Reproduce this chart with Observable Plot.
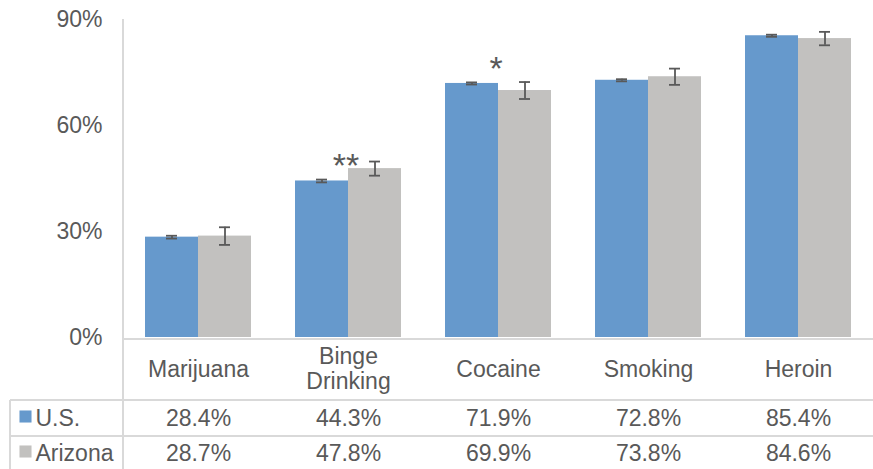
<!DOCTYPE html>
<html><head><meta charset="utf-8">
<script src="https://cdn.jsdelivr.net/npm/d3@7"></script>
<script src="https://cdn.jsdelivr.net/npm/@observablehq/plot@0.6"></script>
<style>body{margin:0;background:#fff}</style>
</head><body><div id="chart"></div>
<script>
const categories = ["Marijuana", "Binge Drinking", "Cocaine", "Smoking", "Heroin"];
const categoryLabels = ["Marijuana", "Binge\nDrinking", "Cocaine", "Smoking", "Heroin"];
const series = ["U.S.", "Arizona"];
const usValues = [28.4, 44.3, 71.9, 72.8, 85.4];
const azValues = [28.7, 47.8, 69.9, 73.8, 84.6];
const usErrors = [0.4, 0.4, 0.3, 0.3, 0.3];
const azErrors = [2.5, 2.0, 2.4, 2.3, 1.9];
const significance = ["", "**", "*", "", ""];
const yTicks = [0, 30, 60, 90];
const colors = ["#6699cc", "#c2c1bf"];

const rows = [];
categories.forEach((c, i) => {
  rows.push({cat: c, series: "U.S.", value: usValues[i], err: usErrors[i]});
  rows.push({cat: c, series: "Arizona", value: azValues[i], err: azErrors[i]});
});
const usRows = rows.filter(d => d.series === "U.S.");
const azRows = rows.filter(d => d.series === "Arizona");
const sigRows = categories.map((c, i) => ({cat: c, mark: significance[i], value: usValues[i] + usErrors[i]})).filter(d => d.mark);
const fmt = v => d3.format(".1f")(v) + "%";

const font = "'Liberation Sans', Arial, sans-serif";
const textColor = "#595959";
const errColor = "#595959";

const plot = Plot.plot({
  width: 873, height: 469,
  marginLeft: 123, marginRight: 0, marginTop: 19, marginBottom: 132,
  style: {fontFamily: font, fontSize: "23px", color: textColor, background: "#fff"},
  fx: {domain: categories, padding: 0, axis: null, label: null},
  x: {domain: series, paddingInner: 0, paddingOuter: 0.389, axis: null},
  y: {domain: [0, 90], ticks: yTicks, tickFormat: d => d + "%", tickSize: 0, tickPadding: 21, label: null},
  color: {domain: series, range: colors},
  marks: [
    Plot.barY(rows, {fx: "cat", x: "series", y: "value", fill: "series"}),
    Plot.ruleX(rows, {fx: "cat", x: "series", y1: d => d.value - d.err, y2: d => d.value + d.err, stroke: errColor, strokeWidth: 1.8}),
    Plot.tickY(rows, {fx: "cat", x: "series", y: d => d.value + d.err, stroke: errColor, strokeWidth: 1.8, inset: 21}),
    Plot.tickY(rows, {fx: "cat", x: "series", y: d => d.value - d.err, stroke: errColor, strokeWidth: 1.8, inset: 21}),
    Plot.text(sigRows, {fx: "cat", x: () => "U.S.", y: "value", text: "mark", dx: 24, dy: -13, fontSize: 34, fill: textColor}),
    Plot.text(categories, {fx: d => d, text: (d, i) => categoryLabels[i], frameAnchor: "bottom", lineAnchor: "middle", dy: 31, fontSize: 23, lineHeight: 1.09, fill: textColor}),
    Plot.text(usRows, {fx: "cat", text: d => fmt(d.value), frameAnchor: "bottom", lineAnchor: "middle", dy: 81, fontSize: 23, fill: textColor}),
    Plot.text(azRows, {fx: "cat", text: d => fmt(d.value), frameAnchor: "bottom", lineAnchor: "middle", dy: 116, fontSize: 23, fill: textColor}),
    Plot.text([{cat: categories[0], label: series[0]}], {fx: "cat", text: "label", frameAnchor: "bottom-left", lineAnchor: "middle", dx: -88, dy: 81, textAnchor: "start", fontSize: 23, fill: textColor}),
    Plot.text([{cat: categories[0], label: series[1]}], {fx: "cat", text: "label", frameAnchor: "bottom-left", lineAnchor: "middle", dx: -88, dy: 116, textAnchor: "start", fontSize: 23, fill: textColor}),
    Plot.dot([{cat: categories[0], series: series[0]}], {fx: "cat", frameAnchor: "bottom-left", dx: -98, dy: 79, symbol: "square", r: 6.8, fill: "series", stroke: null}),
    Plot.dot([{cat: categories[0], series: series[1]}], {fx: "cat", frameAnchor: "bottom-left", dx: -98, dy: 114, symbol: "square", r: 6.8, fill: "series", stroke: null})
  ]
});

// table borders and axis line, placed with the plot's own scales
const svg = d3.select(plot);
const yS = plot.scale("y");
const fxS = plot.scale("fx");
const y0 = yS.apply(0);
const yTop = yS.apply(90);
const left = fxS.range[0];
const right = fxS.range[1];
const H = 469;
const g = svg.append("g").attr("stroke", "#d9d9d9").attr("stroke-width", 2).attr("fill", "none");
const line = (x1, y1, x2, y2) => g.append("line").attr("x1", x1).attr("y1", y1).attr("x2", x2).attr("y2", y2);
line(left, yTop, left, H);
line(left, y0 + 2, right, y0 + 2);
line(left - 113, y0 + 63, right, y0 + 63);
line(left - 113, y0 + 99, right, y0 + 99);
line(left - 113, y0 + 63, left - 113, H);
svg.node().insertBefore(g.node(), svg.node().querySelector("g"));

document.getElementById("chart").appendChild(plot);
</script>
</body></html>
